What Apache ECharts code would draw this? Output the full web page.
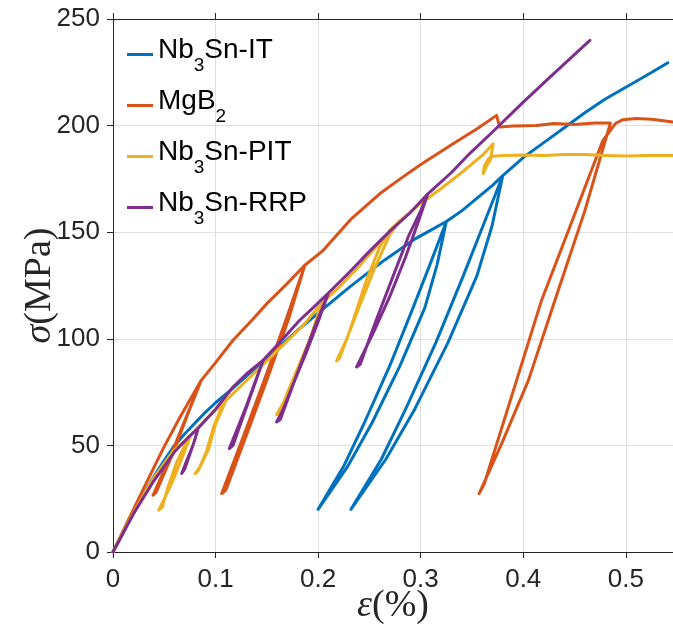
<!DOCTYPE html>
<html>
<head>
<meta charset="utf-8">
<script src="https://cdn.jsdelivr.net/npm/echarts@6/dist/echarts.min.js"></script>
<style>
html,body{margin:0;padding:0;background:#fff;}
#chart{width:673px;height:629px;}
</style>
</head>
<body>
<div id="chart"></div>
<script>
// ---- data (strain %, stress MPa) ----
const seriesNames = ['Nb3Sn-IT', 'MgB2', 'Nb3Sn-PIT', 'Nb3Sn-RRP'];
const legendLabels = ['{m|Nb}{s|3}{m|Sn-IT}', '{m|MgB}{s|2}', '{m|Nb}{s|3}{m|Sn-PIT}', '{m|Nb}{s|3}{m|Sn-RRP}'];
const seriesColors = ['#0072BD', '#D95319', '#EDB120', '#7E2F8E'];
const xTicks = [0, 0.1, 0.2, 0.3, 0.4, 0.5];
const yTicks = [0, 50, 100, 150, 200, 250];

const itData = [
[0,0],[0.01,9],[0.02,18],[0.03,27],[0.04,35.5],[0.05,43],[0.06,50],[0.07,55.5],[0.08,60.5],[0.09,65.5],[0.1,70],[0.115,76],[0.13,82.5],[0.15,91],[0.165,97.5],[0.18,104],[0.2,112],[0.215,118],[0.23,124],[0.25,131.5],[0.265,137],[0.28,142],[0.295,147],[0.31,151],[0.325,155],
[0.316,134.8],[0.304,114.5],[0.28,87.5],[0.2525,60.5],[0.229,40.3],[0.2,20],
[0.225,40.3],[0.245,60.5],[0.27,87.5],[0.2925,114.5],[0.309,134.8],[0.325,155],
[0.34,160],[0.355,166],[0.37,172],[0.38,176.5],
[0.3696,153],[0.3548,129.5],[0.3267,98.3],[0.2942,67],[0.266,43.5],[0.232,20],
[0.2616,43.5],[0.2853,67],[0.3149,98.3],[0.3415,129.5],[0.3608,153],[0.38,176.5],
[0.4,185],[0.42,192],[0.44,199],[0.46,206],[0.48,212.5],[0.5,218],[0.52,223.5],[0.541,229.5]
];

const mgData = [
[0,0],[0.015,15],[0.03,30],[0.049,48.6],[0.065,63],[0.086,80.5],
[0.072,64],[0.056,45],[0.039,26.6],
[0.042,28],[0.059,47],[0.074,66],[0.086,80.5],
[0.0994,88.5],[0.117,99.3],[0.135,108.5],[0.15,116.5],[0.17,126],[0.187,134.5],
[0.168,108],[0.147,80],[0.127,54],[0.106,27.4],
[0.11,29],[0.131,56],[0.151,82],[0.171,109],[0.187,134.5],
[0.205,141.5],[0.2326,156.4],[0.26,168],[0.28,175],[0.299,181.4],[0.33,191],[0.355,198.5],[0.374,204.8],
[0.377,199.3],[0.39,199.8],[0.413,200.1],[0.43,201],[0.45,200.5],[0.47,201.2],[0.485,201.2],
[0.46,160],[0.4308,118],[0.405,80.5],[0.38,52],[0.357,27.4],
[0.362,32],[0.3935,80.5],[0.4178,118],[0.445,152],[0.4776,193],[0.49,201],
[0.497,202.8],[0.51,203.3],[0.525,203],[0.546,201.7]
];

const pitData = [
[0,0],[0.02,18.5],[0.04,35],[0.058,47],[0.076,55],
[0.068,45],[0.058,33],[0.049,24],[0.0445,19.6],
[0.048,21],[0.054,31],[0.062,42],[0.07,50],[0.076,55],
[0.09,62],[0.11,71],
[0.1,60],[0.093,48],[0.085,40],[0.08,36.8],
[0.083,38],[0.091,47],[0.098,58.6],[0.1075,69.6],[0.11,71],
[0.125,78],[0.14,85],[0.155,92],[0.17,99],[0.185,106],[0.203,116.5],
[0.195,104],[0.185,90],[0.172,75],[0.1595,64.4],
[0.163,66],[0.172,77],[0.182,88.4],[0.197,105.5],[0.203,116.5],
[0.22,124],[0.24,134],[0.26,145],[0.28,155.5],
[0.27,149],[0.255,133],[0.24,115],[0.228,100],[0.218,89.6],
[0.221,91],[0.231,104],[0.247,127.4],[0.26,143],[0.27,151],[0.28,155.5],
[0.3,163.5],[0.32,170.5],[0.34,178],[0.36,186],[0.3707,191.5],
[0.368,184],[0.364,181],[0.361,177.5],[0.362,181],[0.366,184.5],[0.369,185.5],
[0.38,186],[0.4,186.2],[0.42,186],[0.44,186.4],[0.46,186.5],[0.48,186],[0.5,185.7],[0.52,186],[0.546,186]
];

const rrpData = [
[0,0],[0.02,18],[0.04,33.5],[0.06,47],[0.075,54.5],[0.083,58],
[0.078,50],[0.072,43],[0.067,36.8],
[0.07,39],[0.075,46],[0.08,53],[0.083,58],
[0.1,67],[0.117,77.4],[0.13,83.5],[0.1465,90],
[0.138,79],[0.13,68.5],[0.121,57.5],[0.1134,48.5],
[0.117,50],[0.125,61],[0.134,73],[0.142,84],[0.1465,90],
[0.16,97],[0.182,108.7],[0.196,115],[0.21,121.5],
[0.2,108],[0.188,93],[0.175,78],[0.166,67],[0.1595,61],
[0.163,62],[0.182,86.8],[0.197,106],[0.21,121.5],
[0.23,131],[0.25,141],[0.27,150.5],[0.2895,159],[0.307,168],
[0.297,154],[0.285,138],[0.27,120],[0.254,103],[0.2375,86.8],
[0.241,88],[0.256,108],[0.272,128],[0.288,148],[0.3,160],[0.307,168],
[0.33,178],[0.348,187],[0.37,197],[0.4,211],[0.43,224.5],[0.465,240]
];

const allData = [itData, mgData, pitData, rrpData];

// ---- chart ----
const chart = echarts.init(document.getElementById('chart'), null, {renderer: 'canvas'});
const axisColor = '#262626';
const gridColor = '#e0e0e0';
const sansFont = 'Liberation Sans';
const serifFont = 'Liberation Serif';

function isTick(v, ticks) {
  return ticks.some(t => Math.abs(t - v) < 1e-9);
}

const option = {
  animation: false,
  backgroundColor: '#ffffff',
  grid: {left: 113, right: 0, top: 19, bottom: 77, containLabel: false, outerBoundsMode: 'none'},
  legend: {
    orient: 'vertical',
    left: 127,
    top: 34,
    padding: 0,
    itemGap: 10,
    itemWidth: 26,
    itemHeight: 3,
    icon: 'rect',
    data: seriesNames,
    formatter: name => legendLabels[seriesNames.indexOf(name)],
    textStyle: {
      fontFamily: sansFont,
      fontSize: 28,
      color: '#000',
      rich: {
        m: {fontFamily: sansFont, fontSize: 28, lineHeight: 36, color: '#000', verticalAlign: 'middle', padding: [0, 0, 8, 0]},
        s: {fontFamily: sansFont, fontSize: 19, lineHeight: 36, color: '#000', verticalAlign: 'middle', padding: [22, 0, 0, 0]}
      }
    }
  },
  xAxis: [{
    type: 'value',
    min: 0,
    max: 0.546,
    interval: 0.1,
    position: 'bottom',
    name: '{i|ε}(%)',
    nameLocation: 'middle',
    nameGap: 35,
    nameMoveOverlap: false,
    nameTextStyle: {
      fontFamily: serifFont, fontSize: 38, color: axisColor,
      rich: {i: {fontFamily: serifFont, fontSize: 38, fontStyle: 'italic', color: axisColor}}
    },
    axisLine: {show: true, onZero: false, lineStyle: {color: axisColor, width: 1}},
    axisTick: {show: true, inside: false, length: 6, lineStyle: {color: axisColor}},
    axisLabel: {
      show: true, margin: 15, color: axisColor, fontFamily: sansFont, fontSize: 26,
      showMaxLabel: false,
      formatter: v => isTick(v, xTicks) ? (v === 0 ? '0' : v.toFixed(1)) : ''
    },
    splitLine: {show: true, lineStyle: {color: gridColor, width: 1}}
  }, {
    type: 'value',
    min: 0,
    max: 0.546,
    interval: 0.1,
    position: 'top',
    axisLine: {show: true, onZero: false, lineStyle: {color: axisColor, width: 1}},
    axisTick: {show: true, inside: false, length: 6, lineStyle: {color: axisColor}},
    axisLabel: {show: false},
    splitLine: {show: false}
  }],
  yAxis: {
    type: 'value',
    min: 0,
    max: 250,
    interval: 50,
    name: '{i|σ}(MPa)',
    nameLocation: 'middle',
    nameRotate: 90,
    nameGap: 54,
    nameMoveOverlap: false,
    nameTextStyle: {
      fontFamily: serifFont, fontSize: 38, color: axisColor,
      rich: {i: {fontFamily: serifFont, fontSize: 38, fontStyle: 'italic', color: axisColor}}
    },
    axisLine: {show: true, onZero: false, lineStyle: {color: axisColor, width: 1}},
    axisTick: {show: true, inside: false, length: 6, lineStyle: {color: axisColor}},
    axisLabel: {
      show: true, margin: 13, color: axisColor, fontFamily: sansFont, fontSize: 26,
      formatter: v => isTick(v, yTicks) ? String(v) : ''
    },
    splitLine: {show: true, lineStyle: {color: gridColor, width: 1}}
  },
  series: seriesNames.map((n, i) => ({
    name: n,
    type: 'line',
    xAxisIndex: 0,
    data: allData[i],
    showSymbol: false,
    symbol: 'none',
    smooth: false,
    clip: true,
    color: seriesColors[i],
    lineStyle: {color: seriesColors[i], width: 3, join: 'round', cap: 'round'},
    emphasis: {disabled: true}
  }))
};
chart.setOption(option);
</script>
</body>
</html>
